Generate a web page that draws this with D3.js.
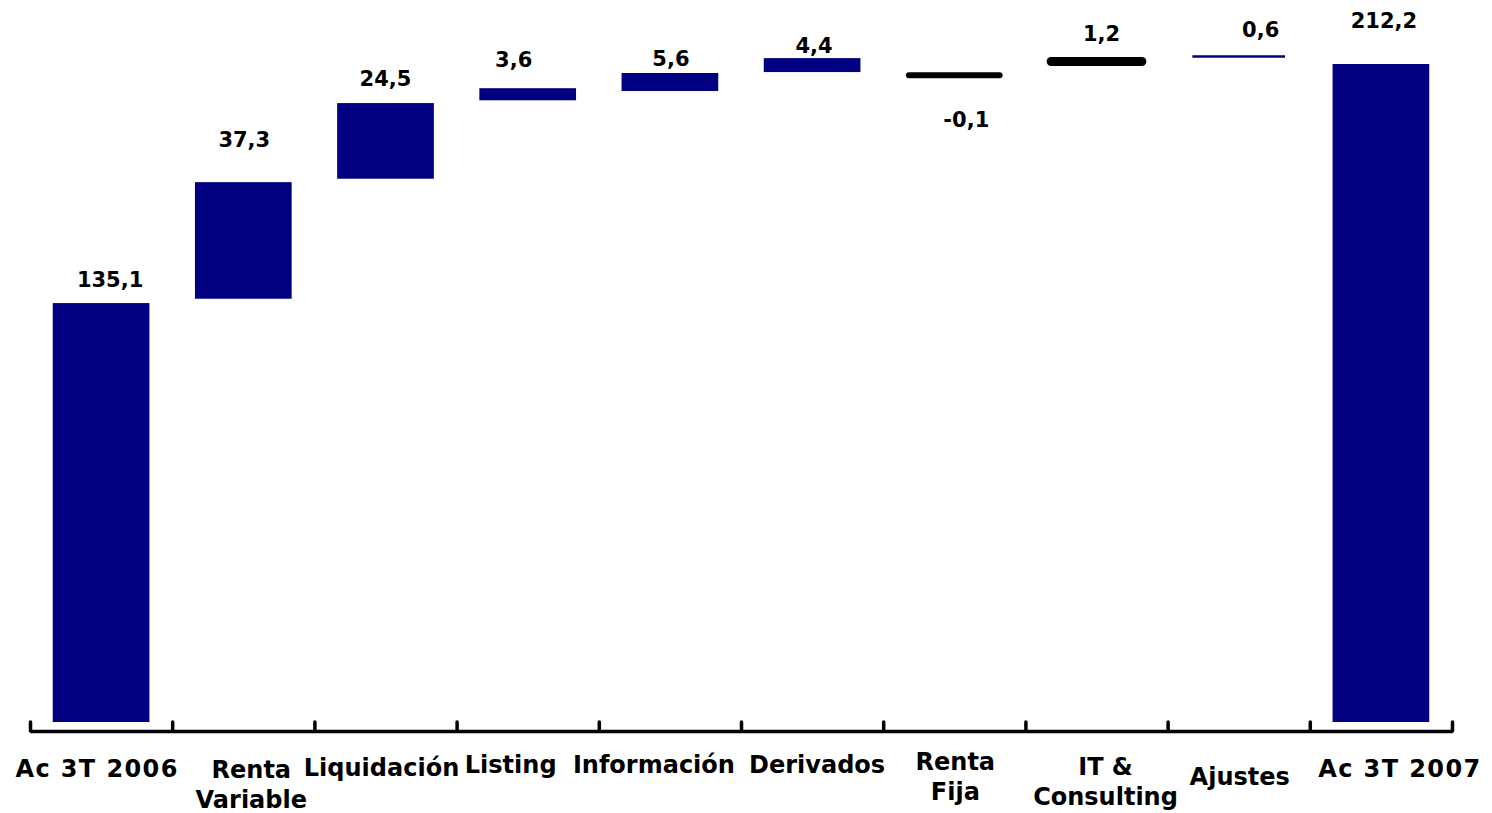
<!DOCTYPE html>
<html>
<head>
<meta charset="utf-8">
<script src="https://cdn.jsdelivr.net/npm/d3@7"></script>
<style>
  html, body { margin: 0; padding: 0; background: #fff; }
  svg { display: block; font-family: "DejaVu Sans", Verdana, sans-serif; font-weight: bold; }
</style>
</head>
<body>
<svg id="chart" width="1492" height="813"></svg>
<script>
// categorías y valores del puente
const categories = ["Ac 3T 2006", "Renta Variable", "Liquidación", "Listing", "Información",
                    "Derivados", "Renta Fija", "IT & Consulting", "Ajustes", "Ac 3T 2007"];
const labelLines = [["Ac 3T 2006"], ["Renta", "Variable"], ["Liquidación"], ["Listing"], ["Información"],
                    ["Derivados"], ["Renta", "Fija"], ["IT &", "Consulting"], ["Ajustes"], ["Ac 3T 2007"]];
const values = [135.1, 37.3, 24.5, 3.6, 5.6, 4.4, -0.1, 1.2, 0.6, 212.2];
// extremos de cada barra tal como aparecen dibujados
const barBase = [0, 136.5, 175.2, 200.5, 203.5, 209.6, 208.6, 213.0, 214.6, 0];
const barTop  = [135.1, 174.1, 199.6, 204.4, 209.3, 214.1, 208.6, 213.0, 214.6, 212.2];

const navy = "#000080";
const fmt = d3.formatLocale({decimal: ",", thousands: ".", grouping: [3], currency: ["", "€"], minus: "-"}).format(".1f");

const svg = d3.select("#chart");
const x = d3.scaleBand().domain(categories).range([30, 1452]).paddingInner(0.32).paddingOuter(0.16);
const y = d3.scaleLinear().domain([0, 212.2]).range([722, 64]);

// barras finas que se dibujan como trazo
const thin = {
  "Renta Fija":      {stroke: "#000", width: 6, cap: "round", inset: 3},
  "IT & Consulting": {stroke: "#000", width: 9, cap: "round", inset: 3},
  "Ajustes":         {stroke: navy,   width: 2.5, cap: "butt", inset: 2}
};

const rows = categories.map((c, i) => ({cat: c, lines: labelLines[i], v: values[i], lo: barBase[i], hi: barTop[i]}));

svg.append("g").selectAll("rect")
  .data(rows.filter(d => !thin[d.cat]))
  .join("rect")
    .attr("x", d => x(d.cat))
    .attr("width", x.bandwidth())
    .attr("y", d => y(d.hi))
    .attr("height", d => y(d.lo) - y(d.hi))
    .attr("fill", navy);

svg.append("g").selectAll("line")
  .data(rows.filter(d => thin[d.cat]))
  .join("line")
    .attr("x1", d => x(d.cat) + thin[d.cat].inset)
    .attr("x2", d => x(d.cat) + x.bandwidth() - thin[d.cat].inset)
    .attr("y1", d => y(d.hi))
    .attr("y2", d => y(d.hi))
    .attr("stroke", d => thin[d.cat].stroke)
    .attr("stroke-width", d => thin[d.cat].width)
    .attr("stroke-linecap", d => thin[d.cat].cap);

// eje con marcas entre categorías
const edges = d3.scaleLinear().domain([0, categories.length]).range([30, 1452]);
const axis = svg.append("g").attr("transform", "translate(0,731)")
  .call(d3.axisTop(edges).tickValues(d3.range(categories.length + 1)).tickSize(9).tickSizeOuter(0).tickFormat(""));
axis.select(".domain").attr("stroke", "#000").attr("stroke-width", 3.5);
axis.selectAll(".tick line").attr("stroke", "#000").attr("stroke-width", 3.5).attr("stroke-linecap", "round");

// etiquetas de valor (desplazamientos como en el original)
const valNudge = [[9, 16], [1, 35], [0, 17], [-14, 21], [1, 7], [2, 5], [12, -52], [5, 21], [22, 20], [3, 36]];
svg.append("g").selectAll("text")
  .data(rows)
  .join("text")
    .attr("x", (d, i) => x(d.cat) + x.bandwidth() / 2 + valNudge[i][0])
    .attr("y", (d, i) => y(d.hi) - valNudge[i][1])
    .attr("text-anchor", "middle")
    .attr("font-size", 21)
    .attr("fill", "#000")
    .text(d => fmt(d.v));

// etiquetas de categoría
const catNudge = [[-4, 777], [8, 778], [-4, 776], [-17, 773], [-16, 773], [5, 773], [1, 770], [9, 775], [1, 785], [19, 777]];
const cl = svg.append("g").selectAll("text")
  .data(rows)
  .join("text")
    .attr("text-anchor", "middle")
    .attr("font-size", 24)
    .attr("fill", "#000")
    .attr("letter-spacing", d => d.cat.startsWith("Ac ") ? 1.4 : 0)
    .attr("transform", (d, i) => `translate(${x(d.cat) + x.bandwidth() / 2 + catNudge[i][0]},${catNudge[i][1]})`);
cl.selectAll("tspan")
  .data(d => d.lines)
  .join("tspan")
    .attr("x", 0)
    .attr("y", (d, j) => j * 30)
    .text(d => d);
</script>
</body>
</html>
